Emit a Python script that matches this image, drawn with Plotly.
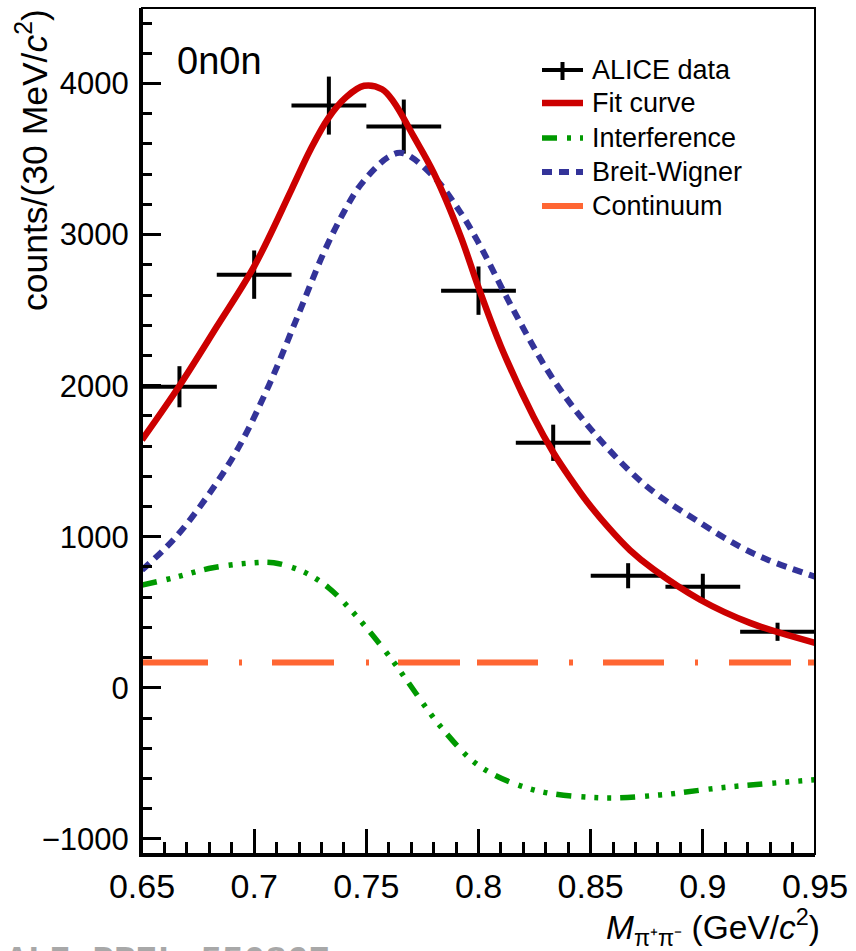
import plotly.graph_objects as go

# ---------------- data ----------------
mass_centers = [0.6667, 0.7000, 0.7333, 0.7667, 0.8000, 0.8333, 0.8667, 0.9000, 0.9333]
mass_halfwidth = [0.01667, 0.01667, 0.01667, 0.01667, 0.01667, 0.01667, 0.01667, 0.01667, 0.01667]
counts = [1993, 2735, 3854, 3715, 2629, 1622, 742, 669, 371]
counts_err = [136, 160, 192, 179, 160, 120, 83, 86, 60]

fit_x = [0.650, 0.6667, 0.6833, 0.700, 0.7167, 0.725, 0.733, 0.741, 0.749, 0.757, 0.7621,
         0.7711, 0.780, 0.792, 0.800, 0.810, 0.8245, 0.8334, 0.8410, 0.8485, 0.858, 0.8676, 0.8779,
         0.8988, 0.921, 0.950]
fit_y = [1642, 2000, 2390, 2790, 3300, 3560, 3770, 3910, 3985, 3962, 3880,
         3650, 3410, 2990, 2650, 2260, 1795, 1556, 1385, 1230, 1060, 910, 785,
         583, 430, 298]

bw_x = [0.650, 0.664, 0.679, 0.693, 0.7065, 0.7194, 0.731, 0.740, 0.7475, 0.7595, 0.766,
        0.780, 0.792, 0.7995, 0.8155, 0.8334, 0.853, 0.8752, 0.8988, 0.9166, 0.9286, 0.950]
bw_y = [780, 980, 1265, 1590, 2000, 2460, 2880, 3150, 3330, 3510, 3540,
        3384, 3146, 2960, 2503, 2040, 1662, 1331, 1093, 934, 850, 735]

intf_x = [0.650, 0.664, 0.6816, 0.700, 0.7087, 0.722, 0.7332, 0.743, 0.7519, 0.762, 0.768,
          0.7844, 0.8009, 0.8245, 0.8543, 0.881, 0.9077, 0.950]
intf_y = [680, 728, 795, 828, 828, 768, 662, 517, 364, 175, 50,
          -280, -523, -675, -728, -709, -662, -609]

cont_x = [0.65, 0.95]
cont_y = [168, 168]

x_range = [0.65, 0.95]
y_range = [-1100, 4500]

legend_labels = ["ALICE data", "Fit curve", "Interference", "Breit-Wigner", "Continuum"]

FONT = "Liberation Sans, Arial, Helvetica, sans-serif"

RED, GREEN, BLUE, ORANGE = "#CC0000", "#009900", "#333399", "#FF6633"
DASH_INTF = "15px,10px,4px,9px,4px,9px,4px,9px"
DASH_BW = "10px,7px"
DASH_CONT = "66px,31px,3px,30px,62px,32px,3px,29px,62px,17px,61px,31px,4px,30px,61px,31px,3px,31px,62px,17px,30px"

fig = go.Figure()

# measured points (crosses drawn by error bars)
fig.add_trace(go.Scatter(
    x=mass_centers, y=counts, mode="markers", name=legend_labels[0],
    marker=dict(size=3, color="black"),
    error_x=dict(type="data", array=mass_halfwidth, visible=True, width=0, thickness=4, color="black"),
    error_y=dict(type="data", array=counts_err, visible=True, width=0, thickness=4, color="black"),
    showlegend=False, hoverinfo="skip"))

fig.add_trace(go.Scatter(
    x=cont_x, y=cont_y, mode="lines", name=legend_labels[4],
    line=dict(color=ORANGE, width=6, dash=DASH_CONT), showlegend=False))

fig.add_trace(go.Scatter(
    x=intf_x, y=intf_y, mode="lines", name=legend_labels[2], line_shape="spline",
    line=dict(color=GREEN, width=5.5, dash=DASH_INTF), showlegend=False))

fig.add_trace(go.Scatter(
    x=bw_x, y=bw_y, mode="lines", name=legend_labels[3], line_shape="spline",
    line=dict(color=BLUE, width=6, dash=DASH_BW), showlegend=False))

fig.add_trace(go.Scatter(
    x=fit_x, y=fit_y, mode="lines", name=legend_labels[1], line_shape="spline",
    line=dict(color=RED, width=6.5), showlegend=False))

axis_common = dict(showgrid=False, zeroline=False, showline=True, linecolor="black", linewidth=3,
                   ticks="inside", tickcolor="black", tickwidth=2.5)

fig.update_xaxes(range=x_range, tick0=0.65, dtick=0.05, ticklen=25,
                 tickfont=dict(size=34, family=FONT, color="black"),
                 minor=dict(dtick=0.01, ticklen=12, tickwidth=2.5, ticks="inside", tickcolor="black",
                            showgrid=False),
                 **axis_common)
fig.update_yaxes(range=y_range, tick0=0, dtick=1000, ticklen=19, ticklabelstandoff=4,
                 tickfont=dict(size=31, family=FONT, color="black"),
                 minor=dict(dtick=200, ticklen=10, tickwidth=2.5, ticks="inside", tickcolor="black",
                            showgrid=False),
                 **axis_common)

L, R, T, B = 142, 41, 8, 97
W, H = 856, 951
pw, ph = W - L - R, H - T - B


def px_x(p):
    return (p - L) / pw


def px_y(p):
    return (H - B - p) / ph


shapes = [dict(type="rect", xref="paper", yref="paper", x0=0, x1=1, y0=0, y1=1,
               line=dict(color="black", width=2), layer="above")]

# ---- hand-placed legend (ROOT TLegend look) ----
leg_x0, leg_x1, leg_text_x = 542, 583, 590
leg_rows = [70, 103, 138, 172, 206]
leg_styles = [
    dict(color="black", width=4),
    dict(color=RED, width=6.5),
    dict(color=GREEN, width=5.5, dash=DASH_INTF),
    dict(color=BLUE, width=6, dash=DASH_BW),
    dict(color=ORANGE, width=6),
]
for yrow, st in zip(leg_rows, leg_styles):
    shapes.append(dict(type="line", xref="paper", yref="paper",
                       x0=px_x(leg_x0), x1=px_x(leg_x1), y0=px_y(yrow), y1=px_y(yrow), line=st))
shapes.append(dict(type="line", xref="paper", yref="paper",
                   x0=px_x(562.5), x1=px_x(562.5), y0=px_y(leg_rows[0] - 8), y1=px_y(leg_rows[0] + 10),
                   line=dict(color="black", width=4)))

annotations = [
    dict(text=lab, xref="paper", yref="paper", x=px_x(leg_text_x), y=px_y(yrow),
         xanchor="left", yanchor="middle", showarrow=False,
         font=dict(size=27, family=FONT, color="black"))
    for lab, yrow in zip(legend_labels, leg_rows)
]
annotations += [
    dict(text="0n0n", xref="paper", yref="paper", x=px_x(175), y=px_y(61),
         xanchor="left", yanchor="middle", showarrow=False,
         font=dict(size=38, family=FONT, color="black")),
    dict(text="counts/(30 MeV/<i>c</i><sup>2</sup>)", xref="paper", yref="paper",
         x=px_x(33), y=px_y(7), xanchor="center", yanchor="top", textangle=-90,
         showarrow=False, font=dict(size=35.5, family=FONT, color="black")),
    dict(text="<i>M</i><sub>π⁺π⁻</sub> (GeV/<i>c</i><sup>2</sup>)", xref="paper", yref="paper",
         x=px_x(821), y=px_y(927), xanchor="right", yanchor="middle", borderpad=0,
         showarrow=False, font=dict(size=33.5, family=FONT, color="black")),
    dict(text="<b>ALI-PREL-550867</b>", xref="paper", yref="paper",
         x=px_x(4), y=px_y(939), xanchor="left", yanchor="top",
         showarrow=False, font=dict(size=36, family="Liberation Mono, Courier New, monospace",
                                    color="#a8a8a8")),
]

fig.update_layout(
    width=W, height=H,
    margin=dict(l=L, r=R, t=T, b=B),
    plot_bgcolor="white", paper_bgcolor="white",
    font=dict(family=FONT, color="black"),
    showlegend=False,
    shapes=shapes,
    annotations=annotations,
)

fig.write_html("out.html", config={"displayModeBar": False},
               post_script="document.body.style.margin='0px';")
